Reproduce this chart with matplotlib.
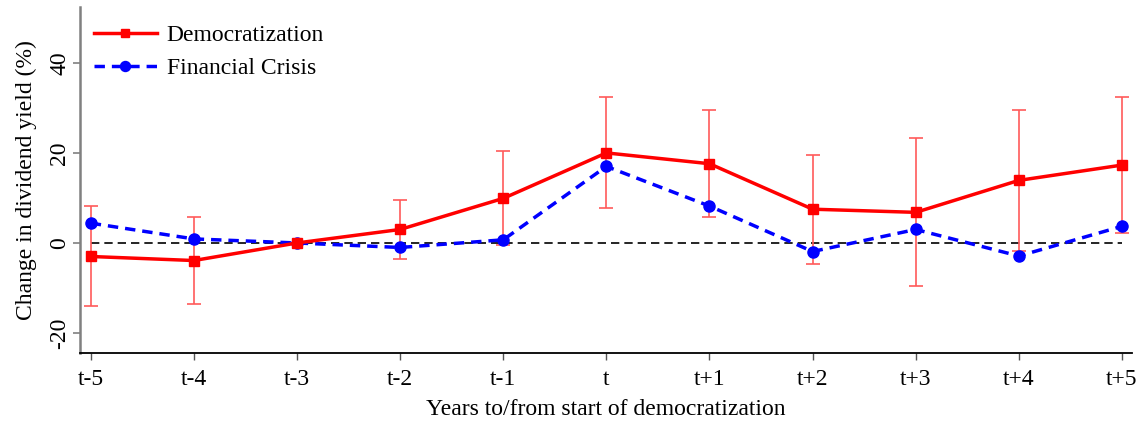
import matplotlib
matplotlib.use("Agg")
import matplotlib.pyplot as plt
import numpy as np

labels = ["t-5", "t-4", "t-3", "t-2", "t-1", "t", "t+1", "t+2", "t+3", "t+4", "t+5"]
democ = [-3.0, -3.9, 0.0, 3.0, 9.9, 20.0, 17.6, 7.5, 6.8, 13.9, 17.3]
democ_lo = [-14.0, -13.6, 0.0, -3.6, -0.5, 7.8, 5.7, -4.6, -9.6, -1.7, 2.3]
democ_hi = [8.2, 5.8, 0.0, 9.6, 20.5, 32.4, 29.5, 19.6, 23.2, 29.5, 32.5]
crisis = [4.4, 0.9, 0.0, -1.0, 0.7, 17.0, 8.2, -1.9, 3.0, -2.9, 3.7]
yticks = [-20, 0, 20, 40]

plt.rcParams['font.family'] = ['Liberation Serif', 'DejaVu Serif']

fig = plt.figure(figsize=(11.45, 4.26), dpi=100)
ax = fig.add_axes([80/1145, 1-353.3/426, (1132-80)/1145, (353.3-7)/426])

x = np.arange(len(labels))
d = np.array(democ)
lo = d - np.array(democ_lo)
hi = np.array(democ_hi) - d
mask = (lo > 0) | (hi > 0)
ax.errorbar(x[mask], d[mask], yerr=[lo[mask], hi[mask]], fmt='none',
            ecolor='#ff5a5a', elinewidth=1.2, capsize=5, capthick=1.2, zorder=2)
ax.plot([x[0], x[-1]], [0, 0], color='black', linestyle=(0, (5, 3)), linewidth=1.2, zorder=1)
ax.plot(x, democ, color='#ff0000', linewidth=2.5, marker='s', markersize=6.5,
        label='Democratization', zorder=4)
ax.plot(x, crisis, color='#0000ff', linewidth=2.5, linestyle=(0, (3, 2)), marker='o',
        markersize=8, label='Financial Crisis', zorder=3)

ax.set_xlim(-0.104, 10.097)
ax.set_ylim(-24.5, 52.4)
ax.set_xticks(x)
ax.set_xticklabels(labels, fontsize=17)
ax.set_yticks(yticks)
ax.set_yticklabels([str(v) for v in yticks], fontsize=17, rotation=90, va='center')
ax.set_xlabel("Years to/from start of democratization", fontsize=17, labelpad=7)
ax.set_ylabel("Change in dividend yield (%)", fontsize=17, labelpad=9)

for s in ['top', 'right']:
    ax.spines[s].set_visible(False)
ax.spines['left'].set_color('#808080')
ax.spines['left'].set_linewidth(1.8)
ax.spines['bottom'].set_color('black')
ax.spines['bottom'].set_linewidth(1.3)
ax.tick_params(axis='y', colors='#808080', labelcolor='black', length=5, width=1.2, pad=2)
ax.tick_params(axis='x', length=5, width=1.0, color='#555555', pad=6)

ax.legend(loc='upper left', frameon=False, fontsize=17, handlelength=2.65,
          handletextpad=0.42, bbox_to_anchor=(0.0, 0.99), borderaxespad=0.2,
          labelspacing=0.5, markerscale=0.9)

fig.savefig("out.png", dpi=100)
